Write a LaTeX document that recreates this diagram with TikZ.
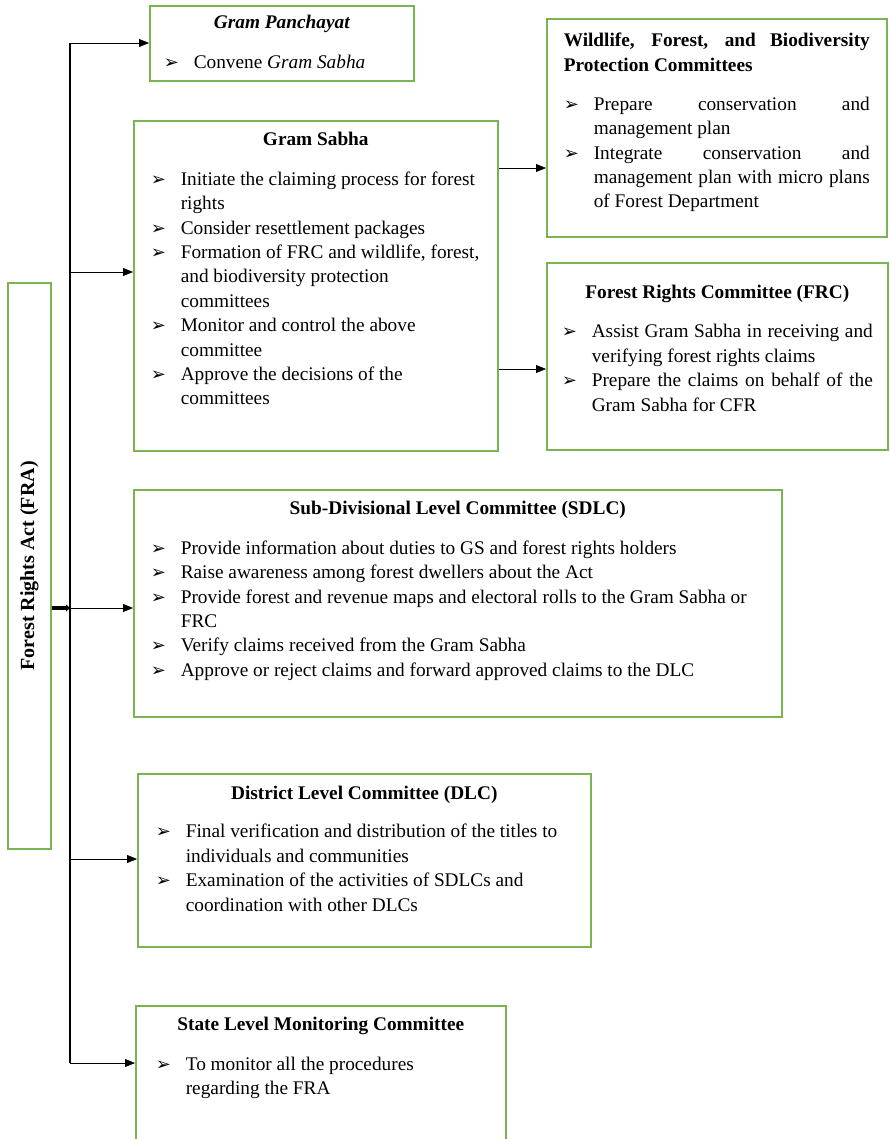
\documentclass[tikz,border=0pt]{standalone}
\usepackage{fontspec}
\setmainfont{Liberation Serif}
\newfontfamily\dingfont{DejaVu Sans}
\usetikzlibrary{arrows.meta,calc,positioning}
\definecolor{panelgreen}{RGB}{122,180,82}
\newcommand{\pointer}{{\dingfont\fontsize{18}{18}\selectfont ➢}}
\newcommand{\itm}[1]{\par\hangindent=30pt\hangafter=1\noindent\makebox[30pt][l]{\pointer}#1}
\newcommand{\ptitle}[2][15.6pt]{{\centering\bfseries\strut #2\par}\vspace{#1}}
% height, width, top pad (pt), body
\newcommand{\pbody}[4]{\parbox[c][#1pt][t]{#2pt}{\fontsize{19.3}{24.4}\selectfont\parskip=0pt\parindent=0pt\vspace*{#3pt}#4}}
\tikzset{
    -{Triangle[length=10pt,width=8pt]}, line width=1.3pt,
    panel/.style = {rectangle, draw=panelgreen, line width=1.6pt, anchor=north west, inner ysep=0pt},
    trunk/.style = {-, line width=2.4pt},
    feed/.style = {line width=4pt, -{Triangle[length=4pt,width=7pt]}}
}

\begin{document}
\begin{tikzpicture}[x=1pt,y=-1pt]
  \useasboundingbox (0,0) rectangle (889,1139);

  \node (fra) at (7,282) [panel, minimum width=43, minimum height=566, inner sep=0pt]
        {\rotatebox{90}{\fontsize{20}{22}\selectfont\bfseries Forest Rights Act (FRA)}};

  \node (gp) at (149,5) [panel, inner xsep=14]
        {\pbody{75}{236}{6}{\ptitle{\itshape Gram Panchayat}
          \itm{Convene \textit{Gram Sabha}}}};
  \node (gs) at (133,120) [panel, inner xsep=17]
        {\pbody{330}{330}{7.5}{\raggedright\ptitle{Gram Sabha}
          \itm{Initiate the claiming process for forest\newline rights}
          \itm{Consider resettlement packages}
          \itm{Formation of FRC and wildlife, forest,\newline and biodiversity protection\newline committees}
          \itm{Monitor and control the above\newline committee}
          \itm{Approve the decisions of the\newline committees}}};
  \node (wl) at (546,18) [panel, inner xsep=17]
        {\pbody{218}{306}{11}{{\bfseries\strut Wildlife, Forest, and Biodiversity\linebreak Protection Committees\par}\vspace{14.6pt}
          \itm{Prepare conservation and\linebreak management plan}
          \itm{Integrate conservation and\linebreak management plan with micro plans\linebreak of Forest Department}}};
  \node (frc) at (546,262) [panel, inner xsep=15]
        {\pbody{187}{311}{19}{\ptitle[14.6pt]{Forest Rights Committee (FRC)}
          \itm{Assist Gram Sabha in receiving and\linebreak verifying forest rights claims}
          \itm{Prepare the claims on behalf of the\linebreak Gram Sabha for CFR}}};
  \node (sdlc) at (133,489) [panel, inner xsep=17]
        {\pbody{227}{614}{7.5}{\raggedright\ptitle{Sub-Divisional Level Committee (SDLC)}
          \itm{Provide information about duties to GS and forest rights holders}
          \itm{Raise awareness among forest dwellers about the Act}
          \itm{Provide forest and revenue maps and electoral rolls to the Gram Sabha or\newline FRC}
          \itm{Verify claims received from the Gram Sabha}
          \itm{Approve or reject claims and forward approved claims to the DLC}}};
  \node (dlc) at (137,773) [panel, inner xsep=18]
        {\pbody{173}{417}{9}{\raggedright\ptitle[13.6pt]{District Level Committee (DLC)}
          \itm{Final verification and distribution of the titles to\newline individuals and communities}
          \itm{Examination of the activities of SDLCs and\newline coordination with other DLCs}}};
  \node (slmc) at (135,1005) [panel, inner xsep=20]
        {\pbody{160}{330}{7.5}{\raggedright\ptitle{State Level Monitoring Committee}
          \itm{To monitor all the procedures\newline regarding the FRA}}};

  % spine
  \coordinate (t1) at (70,43);
  \coordinate (t2) at (70,272);
  \coordinate (t3) at (70,608);
  \coordinate (t4) at (70,859);
  \coordinate (t5) at (70,1063);
  \draw[trunk] (t1) -- (t5);

  \path (fra.east |- t3) edge[feed] (t3);
  \path (t1) edge (t1 -| gp.west);
  \path (t2) edge (t2 -| gs.west);
  \path (t3) edge (t3 -| sdlc.west);
  \path (t4) edge (t4 -| dlc.west);
  \path (t5) edge (t5 -| slmc.west);
  \path (gs.east |- 0,168) edge (wl.west |- 0,168);
  \path (gs.east |- 0,369) edge (frc.west |- 0,369);

\end{tikzpicture}
\end{document}
